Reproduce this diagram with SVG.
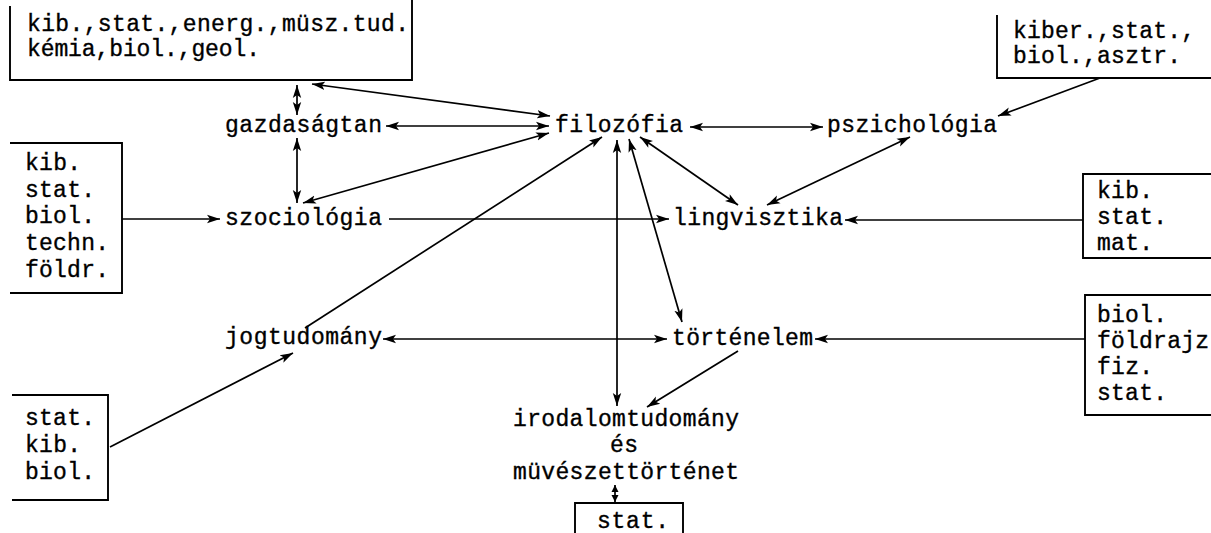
<svg xmlns="http://www.w3.org/2000/svg" width="1211" height="533" viewBox="0 0 1211 533">
  <defs>
    <marker id="ah" markerUnits="userSpaceOnUse" markerWidth="14" markerHeight="10" refX="13" refY="5" orient="auto-start-reverse">
      <path d="M0,0.8 L13,5 L0,9.2 L3,5 z" fill="#000"/>
    </marker>
    <marker id="ahs" markerUnits="userSpaceOnUse" markerWidth="8" markerHeight="8" refX="7" refY="4" orient="auto-start-reverse">
      <path d="M0,0.5 L7,4 L0,7.5 z" fill="#000"/>
    </marker>
    <style>
      .t { font-family: "Liberation Mono", "DejaVu Sans Mono", monospace; font-size: 23px; fill: #000; stroke: #000; stroke-width: 0.35; }
      .b { fill: none; stroke: #000; stroke-width: 1.9; }
      .c line, .c path { fill: none; stroke: #000; stroke-width: 1.7; }
      .two { marker-start: url(#ah); marker-end: url(#ah); }
      .one { marker-end: url(#ah); }
      .small { marker-start: url(#ahs); marker-end: url(#ahs); }
    </style>
  </defs>
  <rect width="1211" height="533" fill="#fff"/>

  <!-- connectors -->
  <g id="connectors" class="c">
    <line class="two" x1="297" y1="85" x2="297" y2="115"/>
    <line class="two" x1="312" y1="84" x2="550" y2="116"/>
    <line class="two" x1="386" y1="126" x2="549" y2="126"/>
    <line class="two" x1="297" y1="138" x2="297" y2="203"/>
    <line class="two" x1="303" y1="203" x2="549" y2="133"/>
    <line class="one" x1="122" y1="219" x2="220" y2="219"/>
    <line class="one" x1="389" y1="219" x2="669" y2="219"/>
    <line class="two" x1="690" y1="127" x2="823" y2="127"/>
    <line class="one" x1="1100" y1="78" x2="998" y2="116"/>
    <line class="two" x1="640" y1="137" x2="738" y2="205"/>
    <line class="two" x1="910" y1="137" x2="767" y2="205"/>
    <line class="one" x1="1083" y1="220" x2="845" y2="220"/>
    <line class="one" x1="305" y1="328" x2="602" y2="137"/>
    <line class="two" x1="617" y1="140" x2="617" y2="406"/>
    <line class="two" x1="629" y1="139" x2="682" y2="322"/>
    <line class="one" x1="110" y1="447" x2="293" y2="353"/>
    <line class="two" x1="383" y1="339" x2="667" y2="339"/>
    <line class="one" x1="1085" y1="339" x2="815" y2="339"/>
    <line class="one" x1="738" y1="351" x2="647" y2="407"/>
    <line class="small" x1="615" y1="485" x2="615" y2="502"/>
  </g>

  <!-- source boxes -->
  <g id="box-top-left">
    <path class="b" d="M10,6 V80 H412 V0"/>
    <text class="t" x="27" y="31" textLength="382">kib.,stat.,energ.,müsz.tud.</text>
    <text class="t" x="27" y="56" textLength="233">kémia,biol.,geol.</text>
  </g>
  <g id="box-top-right">
    <path class="b" d="M997,15 V78 H1211"/>
    <text class="t" x="1013" y="38" textLength="182">kiber.,stat.,</text>
    <text class="t" x="1013" y="63" textLength="168">biol.,asztr.</text>
  </g>
  <g id="box-left-mid">
    <path class="b" d="M10,143 H122 V293 H10"/>
    <text class="t" x="25" y="170" textLength="56">kib.</text>
    <text class="t" x="25" y="197" textLength="70">stat.</text>
    <text class="t" x="25" y="223" textLength="70">biol.</text>
    <text class="t" x="25" y="250" textLength="84">techn.</text>
    <text class="t" x="25" y="277" textLength="84">földr.</text>
  </g>
  <g id="box-right-mid">
    <path class="b" d="M1211,174 H1083 V258 H1211"/>
    <text class="t" x="1097" y="198" textLength="56">kib.</text>
    <text class="t" x="1097" y="224" textLength="70">stat.</text>
    <text class="t" x="1097" y="250" textLength="56">mat.</text>
  </g>
  <g id="box-right-low">
    <path class="b" d="M1211,295 H1085 V415 H1211"/>
    <text class="t" x="1097" y="322" textLength="70">biol.</text>
    <text class="t" x="1097" y="348" textLength="112">földrajz</text>
    <text class="t" x="1097" y="374" textLength="56">fiz.</text>
    <text class="t" x="1097" y="400" textLength="70">stat.</text>
  </g>
  <g id="box-left-low">
    <path class="b" d="M12,395 H108 V500 H12"/>
    <text class="t" x="25" y="425" textLength="70">stat.</text>
    <text class="t" x="25" y="452" textLength="56">kib.</text>
    <text class="t" x="25" y="479" textLength="70">biol.</text>
  </g>
  <g id="box-bottom">
    <path class="b" d="M575,533 V503 H683 V533"/>
    <text class="t" x="597" y="528" textLength="72">stat.</text>
  </g>

  <!-- disciplines -->
  <g id="gazdasagtan"><text class="t" x="225" y="132" textLength="157">gazdaságtan</text></g>
  <g id="filozofia"><text class="t" x="555" y="132" textLength="128">filozófia</text></g>
  <g id="pszichologia"><text class="t" x="827" y="132" textLength="170">pszichológia</text></g>
  <g id="szociologia"><text class="t" x="225" y="225" textLength="157">szociológia</text></g>
  <g id="lingvisztika"><text class="t" x="673" y="225" textLength="170">lingvisztika</text></g>
  <g id="jogtudomany"><text class="t" x="225" y="344" textLength="157">jogtudomány</text></g>
  <g id="tortenelem"><text class="t" x="672" y="345" textLength="141">történelem</text></g>
  <g id="irodalomtudomany">
    <text class="t" x="513" y="426" textLength="226">irodalomtudomány</text>
    <text class="t" x="610" y="452" textLength="28">és</text>
    <text class="t" x="513" y="479" textLength="226">müvészettörténet</text>
  </g>
</svg>
